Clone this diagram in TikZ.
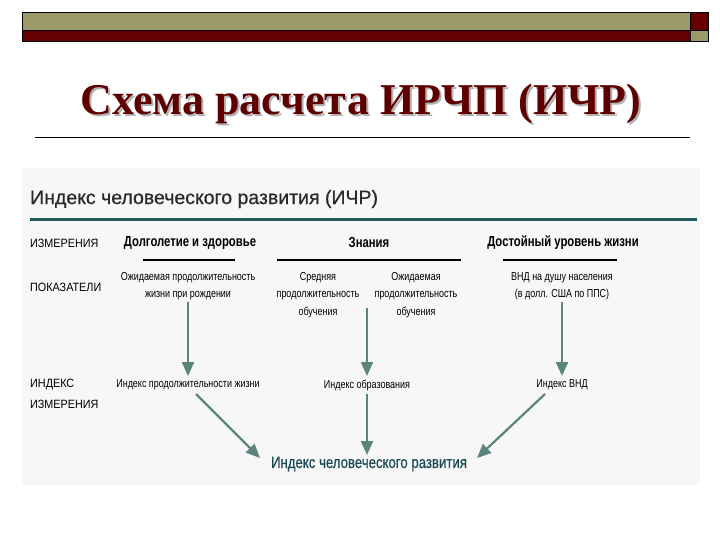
\documentclass[tikz,border=0pt]{standalone}
\usepackage{fontspec}
\setmainfont{Liberation Sans}
\newfontfamily\titlefont{Liberation Serif}
\newfontfamily\narrow[FakeStretch=0.78]{Liberation Sans}
\newfontfamily\semi[FakeStretch=0.9]{Liberation Sans}
\newfontfamily\heavy[FakeBold=0.6]{Liberation Sans}
\newfontfamily\narrowheavy[FakeStretch=0.8,FakeBold=0.6]{Liberation Sans}
\usetikzlibrary{arrows.meta}
\definecolor{olivebar}{HTML}{9A9A6A}
\definecolor{redbar}{HTML}{660000}
\definecolor{titlered}{HTML}{5E0000}
\definecolor{tealline}{HTML}{1E5C5A}
\definecolor{arrowc}{HTML}{5B857C}
\definecolor{finalc}{HTML}{1E4A58}
\definecolor{headc}{HTML}{2A2A2A}
\definecolor{panel}{HTML}{F7F7F7}
\tikzset{
  lbl/.style={inner sep=0pt, align=center, font=\narrow\fontsize{11.5}{17.5}\selectfont},
  rowlbl/.style={inner sep=0pt, anchor=west, align=left, font=\semi\fontsize{12}{21}\selectfont},
  dimlbl/.style={inner sep=0pt, font=\narrow\bfseries\fontsize{14.5}{16}\selectfont},
  arr/.style={draw=arrowc, line width=2.2pt, -{Triangle[length=14pt,width=12pt]}},
  ubar/.style={line width=2.2pt, black}
}
\begin{document}
\begin{tikzpicture}[x=1pt,y=-1pt]
\useasboundingbox (0,0) rectangle (720,540);
\fill[white] (0,0) rectangle (720,540);
% top bar
\fill[olivebar] (22,12) rectangle (690,30);
\fill[redbar] (22,30) rectangle (690,41);
\fill[redbar] (690,12) rectangle (708,30);
\fill[olivebar] (690,30) rectangle (708,41);
\draw[line width=0.8pt] (22,12) rectangle (708,41);
\draw[line width=0.8pt] (22,30) -- (708,30);
\draw[line width=0.8pt] (690,12) -- (690,41);
% title
\node[inner sep=0pt, text=gray!60, font=\titlefont\bfseries\fontsize{44}{46}\selectfont] at (363,106) {Схема расчета ИРЧП (ИЧР)};
\node (title) [inner sep=0pt, text=titlered, font=\titlefont\bfseries\fontsize{44}{46}\selectfont] at (361,104) {Схема расчета ИРЧП (ИЧР)};
\draw[line width=0.8pt] (35,137) -- (690,137);
% panel
\fill[panel] (22,168) rectangle (700,485);
\node (head) [inner sep=0pt, anchor=west, text=headc, font=\heavy\fontsize{19.5}{22}\selectfont] at (30,199) {Индекс человеческого развития (ИЧР)};
\draw[tealline, line width=3pt] (30,220) -- (697,220);
% row labels
\node (r1) [rowlbl] at (30,243) {ИЗМЕРЕНИЯ};
\node (r2) [rowlbl] at (30,287) {ПОКАЗАТЕЛИ};
\node (r3) [rowlbl] at (30,394) {ИНДЕКС\\ИЗМЕРЕНИЯ};
% dimensions
\node (d1) [dimlbl] at (190,243) {Долголетие и здоровье};
\node (d2) [dimlbl] at (369,243) {Знания};
\node (d3) [dimlbl] at (563,243) {Достойный уровень жизни};
\draw[ubar] (143,260) -- (235,260);
\draw[ubar] (277,260) -- (461,260);
\draw[ubar] (503,260) -- (617,260);
% indicators
\node (p1) [lbl] at (188,286) {Ожидаемая продолжительность\\жизни при рождении};
\node (p2) [lbl] at (318,295) {Средняя\\продолжительность\\обучения};
\node (p3) [lbl] at (416,295) {Ожидаемая\\продолжительность\\обучения};
\node (p4) [lbl] at (562,286) {ВНД на душу населения\\(в долл. США по ППС)};
% indices
\node (i1) [lbl] at (188,385) {Индекс продолжительности жизни};
\node (i2) [lbl] at (367,385) {Индекс образования};
\node (i3) [lbl] at (562,385) {Индекс ВНД};
\node (hdi) [inner sep=0pt, text=finalc, font=\narrowheavy\fontsize{16.5}{18}\selectfont] at (369,464) {Индекс человеческого развития};
% arrows
\coordinate (a1s) at (188,302);
\coordinate (a1e) at (188,376);
\coordinate (a2s) at (367,308);
\coordinate (a2e) at (367,376);
\coordinate (a3s) at (562,302);
\coordinate (a3e) at (562,376);
\draw[arr] (a1s) -- (a1e);
\draw[arr] (a2s) -- (a2e);
\draw[arr] (a3s) -- (a3e);
\coordinate (b1s) at (196,394);
\coordinate (b1e) at (260,458);
\coordinate (b2s) at (367,394);
\coordinate (b2e) at (367,455);
\coordinate (b3s) at (545,394);
\coordinate (b3e) at (477,458);
\draw[arr] (b1s) -- (b1e);
\draw[arr] (b2s) -- (b2e);
\draw[arr] (b3s) -- (b3e);
\end{tikzpicture}
\end{document}
